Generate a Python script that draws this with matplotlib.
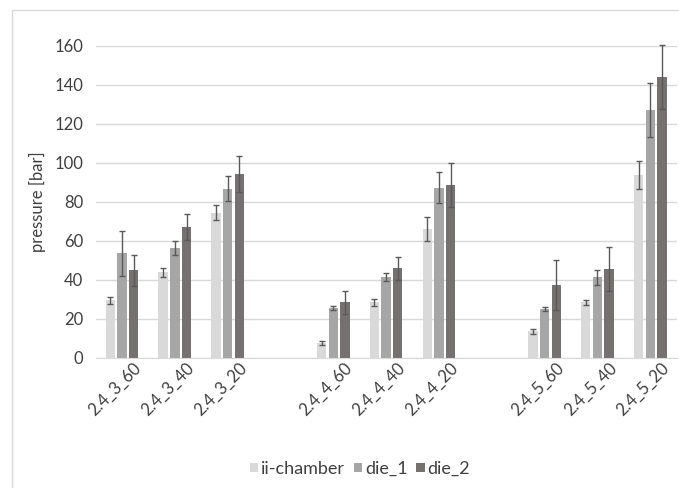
import matplotlib
matplotlib.use("Agg")
import matplotlib.pyplot as plt
import numpy as np
from matplotlib.patches import Rectangle
from matplotlib.transforms import ScaledTranslation

plt.rcParams['font.family'] = ['Lato', 'DejaVu Sans']

categories = ["2.4_3_60", "2.4_3_40", "2.4_3_20", "",
              "2.4_4_60", "2.4_4_40", "2.4_4_20", "",
              "2.4_5_60", "2.4_5_40", "2.4_5_20"]
series = ["ii-chamber", "die_1", "die_2"]
chamber = [29.5, 44.0, 74.5, np.nan, 7.5, 28.5, 66.0, np.nan, 13.6, 28.5, 93.8]
chamber_err = [2.0, 2.3, 3.7, np.nan, 1.0, 1.7, 6.1, np.nan, 1.1, 1.1, 7.0]
die1 = [53.7, 56.3, 86.8, np.nan, 25.6, 41.3, 87.3, np.nan, 25.1, 41.3, 127.1]
die1_err = [11.5, 3.7, 6.4, np.nan, 1.0, 2.0, 7.8, np.nan, 1.0, 3.8, 13.8]
die2 = [44.9, 67.0, 94.2, np.nan, 28.5, 45.9, 88.7, np.nan, 37.5, 45.5, 144.1]
die2_err = [8.0, 6.7, 9.2, np.nan, 6.0, 5.9, 11.3, np.nan, 12.8, 11.4, 16.4]
colors = ["#d9d9d9", "#a6a6a6", "#767171"]
yticks = [0, 20, 40, 60, 80, 100, 120, 140, 160]
text_color = "#404040"

fig = plt.figure(figsize=(6.79, 4.88), dpi=100)
# chart border
fig.patches.append(Rectangle((12/679, -0.1), 1.2, 1 - 10/488 + 0.1, transform=fig.transFigure,
                             fill=False, edgecolor="#d9d9d9", linewidth=1))
ax = fig.add_axes([0.1408, 0.2664, 0.8557, 0.64])

x = np.arange(len(categories))
w = 0.177
step = 0.221
for i, (vals, errs) in enumerate([(chamber, chamber_err), (die1, die1_err), (die2, die2_err)]):
    pos = x + (i - 1) * step
    ax.bar(pos, vals, width=w, color=colors[i], label=series[i], zorder=2)
    ax.errorbar(pos, vals, yerr=errs, fmt="none", ecolor="#595959", elinewidth=1,
                capsize=2.5, capthick=1, zorder=3, clip_on=False)

ax.set_xlim(-0.5, len(categories) - 0.5)
ax.set_ylim(0, 160)
ax.set_yticks(yticks)
ax.set_yticklabels([str(v) for v in yticks])
ax.yaxis.grid(True, color="#d9d9d9", linewidth=1, zorder=0)
ax.set_axisbelow(True)
for s in ["top", "right", "left"]:
    ax.spines[s].set_visible(False)
ax.spines["bottom"].set_color("#d9d9d9")
ax.tick_params(axis="both", length=0, labelsize=12, colors=text_color)
ax.tick_params(axis="y", pad=9)

ax.set_xticks(x)
ax.set_xticklabels(categories, rotation=45, ha="right", va="top", rotation_mode="anchor")
ax.tick_params(axis="x", pad=1)
for lab in ax.get_xticklabels():
    lab.set_transform(lab.get_transform() + ScaledTranslation(11/100, 0, fig.dpi_scale_trans))

ax.set_ylabel("pressure [bar]", fontsize=12, color=text_color, labelpad=6)

leg = ax.legend(loc="center", bbox_to_anchor=(360/679, 1 - 469/488), bbox_transform=fig.transFigure,
                ncol=3, frameon=False, fontsize=13, handlelength=0.45, handleheight=0.45,
                handletextpad=0.15, columnspacing=0.5, labelcolor=text_color,
                borderpad=0, borderaxespad=0)

fig.savefig("out.png", dpi=100)
